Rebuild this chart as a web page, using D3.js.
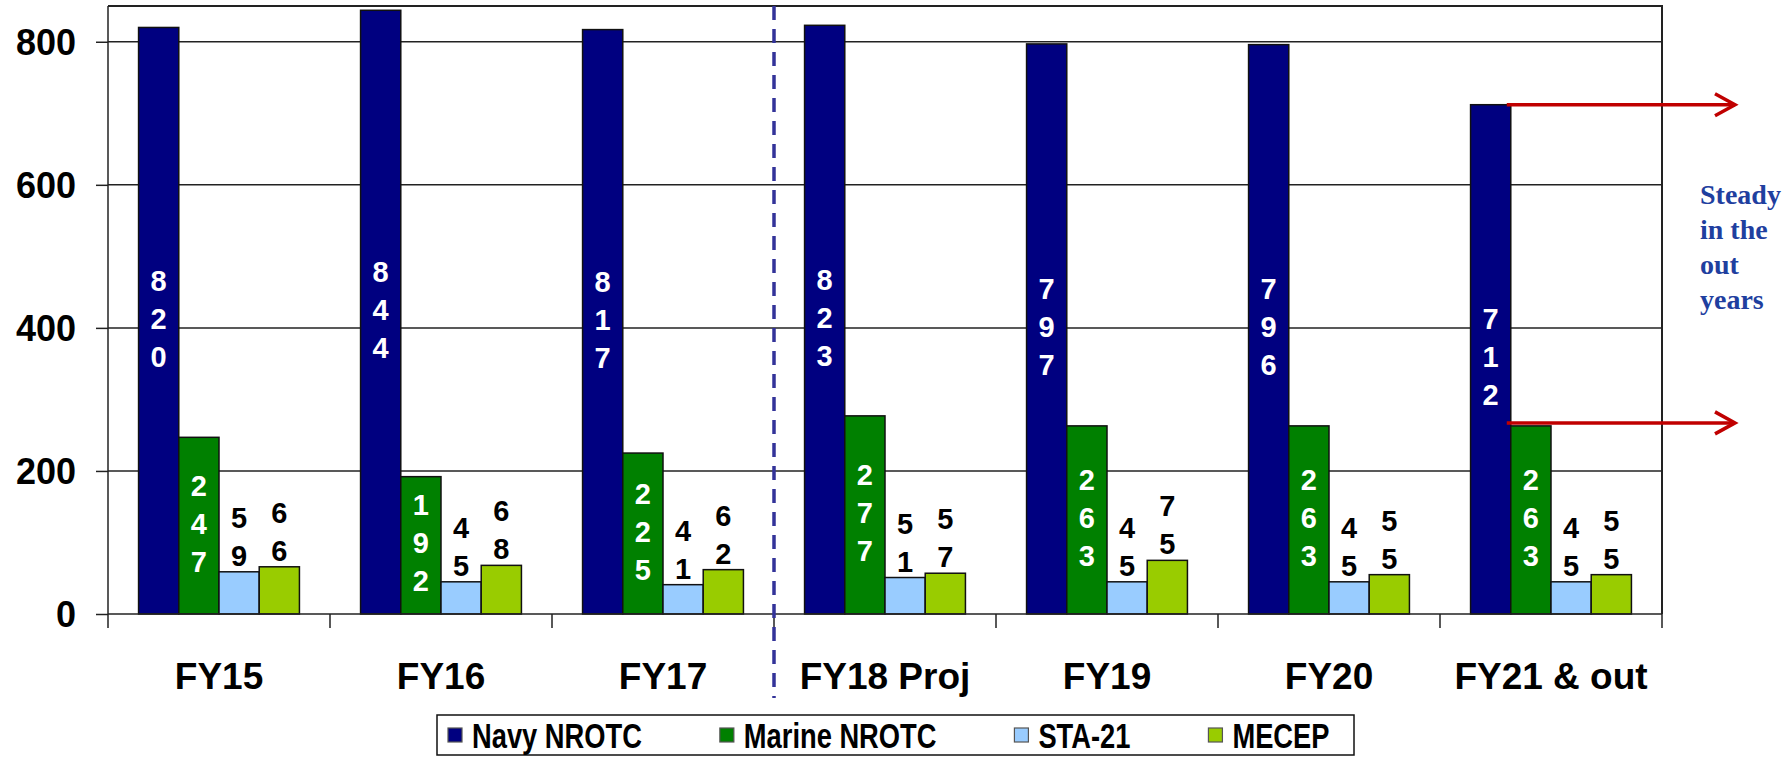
<!DOCTYPE html>
<html>
<head>
<meta charset="UTF-8">
<style>
body{
	margin: 0;
	background: #fff;
	font-family: "Liberation Sans", Arial, sans-serif;
}
svg{
	display: block;
}
.grid line{
	stroke: #222;
	stroke-width: 1.5;
}
.axis path{
	display: none;
}
.axis line{
	stroke: #222;
	stroke-width: 1.5;
}
.axis text{
	font-size: 36px;
	font-weight: bold;
	fill: #000;
}
.x-label{
	font-size: 37px;
	font-weight: bold;
}
.bar rect{
	stroke: #111;
	stroke-width: 1.5;
}
.bar-label{
	font-size: 29px;
	font-weight: bold;
	text-anchor: middle;
}
.legend text{
	font-size: 35px;
	font-weight: bold;
}
.note{
	font-family: "Liberation Serif", serif;
	font-size: 28px;
	font-weight: bold;
	fill: #1f3f9f;
}
</style>
<script src="https://cdn.jsdelivr.net/npm/d3@7"></script>
</head>
<body>
<script>
var categories = ["FY15", "FY16", "FY17", "FY18 Proj", "FY19", "FY20", "FY21 & out"];
var seriesNames = ["Navy NROTC", "Marine NROTC", "STA-21", "MECEP"];
var navyNrotc = [820, 844, 817, 823, 797, 796, 712];
var marineNrotc = [247, 192, 225, 277, 263, 263, 263];
var sta21 = [59, 45, 41, 51, 45, 45, 45];
var mecep = [66, 68, 62, 57, 75, 55, 55];
var yTicks = [0, 200, 400, 600, 800];
var noteLines = ["Steady", "in the", "out", "years"];

var seriesValues = [navyNrotc, marineNrotc, sta21, mecep];
var colors = ["#000080", "#008000", "#99ccff", "#99cc00"];

var W = 1787, H = 757;
var margin = {top: 6, right: W - 1662, bottom: H - 614, left: 108};
var plotW = W - margin.left - margin.right,
	plotH = H - margin.top - margin.bottom;

var svg = d3.select("body").append("svg")
	.attr("width", W)
	.attr("height", H);

var g = svg.append("g")
	.attr("transform", "translate(" + margin.left + "," + margin.top + ")");

var x0 = d3.scaleBand()
	.domain(categories)
	.range([0, plotW])
	.padding(0);

var x1 = d3.scaleBand()
	.domain(seriesNames)
	.range([0, x0.bandwidth()])
	.paddingInner(0)
	.paddingOuter(0.76);

var y = d3.scaleLinear()
	.domain([0, 850])
	.range([plotH, 0]);

// gridlines
g.append("g")
	.attr("class", "grid")
	.selectAll("line")
	.data(yTicks.slice(1))
	.enter().append("line")
	.attr("x1", 0)
	.attr("x2", plotW)
	.attr("y1", function(d){ return y(d); })
	.attr("y2", function(d){ return y(d); });

// plot frame (top + right)
g.append("path")
	.attr("d", "M0,0H" + plotW + "V" + plotH)
	.attr("fill", "none")
	.attr("stroke", "#222")
	.attr("stroke-width", 2);

var rows = [];
categories.forEach(function(c, i){
	seriesNames.forEach(function(s, j){
		rows.push({cat: c, series: s, idx: j, value: seriesValues[j][i]});
	});
});

var bars = g.append("g").attr("class", "bar");
bars.selectAll("rect")
	.data(rows)
	.enter().append("rect")
	.attr("x", function(d){ return x0(d.cat) + x1(d.series); })
	.attr("y", function(d){ return y(d.value); })
	.attr("width", x1.bandwidth())
	.attr("height", function(d){ return y(0) - y(d.value); })
	.attr("fill", function(d){ return colors[d.idx]; });

// stacked digit labels (one digit per line, like the original)
var lineGap = 38;
var labels = g.append("g");
rows.forEach(function(d){
	var digits = String(d.value).split("");
	var cx = x0(d.cat) + x1(d.series) + x1.bandwidth() / 2;
	var inside = d.value > 100;
	var t = labels.append("text")
		.attr("class", "bar-label")
		.attr("fill", inside ? "#fff" : "#000");
	digits.forEach(function(ch, k){
		var yy;
		if (inside) {
			var mid = (y(d.value) + y(0)) / 2;
			yy = mid + (k - (digits.length - 1) / 2) * lineGap + 8;
		} else {
			yy = y(d.value) - 6 - (digits.length - 1 - k) * lineGap;
		}
		t.append("tspan").attr("x", cx).attr("y", yy).text(ch);
	});
});

// y axis
var yAxis = d3.axisLeft(y).tickValues(yTicks).tickSize(12).tickPadding(20);
g.append("g")
	.attr("class", "y axis")
	.call(yAxis)
	.selectAll("text").attr("dy", "0.36em");
g.append("line")
	.attr("x1", 0).attr("x2", 0).attr("y1", 0).attr("y2", plotH + 14)
	.attr("stroke", "#222").attr("stroke-width", 1.5);

// x axis: baseline, boundary ticks, labels
g.append("line")
	.attr("x1", 0).attr("x2", plotW).attr("y1", plotH).attr("y2", plotH)
	.attr("stroke", "#222").attr("stroke-width", 1.5);
g.append("g")
	.attr("class", "axis")
	.selectAll("line")
	.data(categories.slice(1).concat([null]))
	.enter().append("line")
	.attr("x1", function(d){ return d === null ? plotW : x0(d); })
	.attr("x2", function(d){ return d === null ? plotW : x0(d); })
	.attr("y1", plotH)
	.attr("y2", plotH + 14);
g.append("g")
	.selectAll("text")
	.data(categories)
	.enter().append("text")
	.attr("class", "x-label")
	.attr("x", function(d){ return x0(d) + x0.bandwidth() / 2; })
	.attr("y", plotH + 75)
	.attr("text-anchor", "middle")
	.text(function(d){ return d; });

// dashed separator before projections
var sepX = x0("FY18 Proj");
g.append("line")
	.attr("x1", sepX).attr("x2", sepX)
	.attr("y1", 0).attr("y2", plotH + 84)
	.attr("stroke", "#333399")
	.attr("stroke-width", 3.5)
	.attr("stroke-dasharray", "14,9");

// red arrows from last navy / marine bars
var lastCat = categories[categories.length - 1];
var arrowEnd = 1735 - margin.left;
[[0, navyNrotc[6]], [1, marineNrotc[6]]].forEach(function(a){
	var sx = x0(lastCat) + x1(seriesNames[0]) + x1.bandwidth() - 4;
	var sy = y(a[1]) + (a[0] === 0 ? 0 : -3);
	var ag = g.append("g")
		.attr("stroke", "#c00000")
		.attr("stroke-width", 3.5)
		.attr("fill", "none");
	ag.append("line").attr("x1", sx).attr("x2", arrowEnd).attr("y1", sy).attr("y2", sy);
	ag.append("path")
		.attr("d", "M" + (arrowEnd - 20) + "," + (sy - 11) + "L" + arrowEnd + "," + sy + "L" + (arrowEnd - 20) + "," + (sy + 11));
});

// annotation
var note = svg.append("text").attr("class", "note");
noteLines.forEach(function(s, i){
	note.append("tspan").attr("x", 1700).attr("y", 204 + i * 35).text(s);
});

// legend
var legend = svg.append("g").attr("class", "legend");
legend.append("rect")
	.attr("x", 437).attr("y", 715)
	.attr("width", 917).attr("height", 40)
	.attr("fill", "#fff")
	.attr("stroke", "#111")
	.attr("stroke-width", 1.5);
var lx = 448, squeeze = 0.78;
seriesNames.forEach(function(s, i){
	legend.append("rect")
		.attr("x", lx).attr("y", 728)
		.attr("width", 14).attr("height", 14)
		.attr("fill", colors[i])
		.attr("stroke", "#555")
		.attr("stroke-width", 1.2);
	var t = legend.append("text")
		.attr("transform", "translate(" + (lx + 24) + ",748) scale(" + squeeze + ",1)")
		.text(s);
	var w = t.node().getComputedTextLength() * squeeze;
	lx = lx + 24 + w + 78;
});
</script>
</body>
</html>
